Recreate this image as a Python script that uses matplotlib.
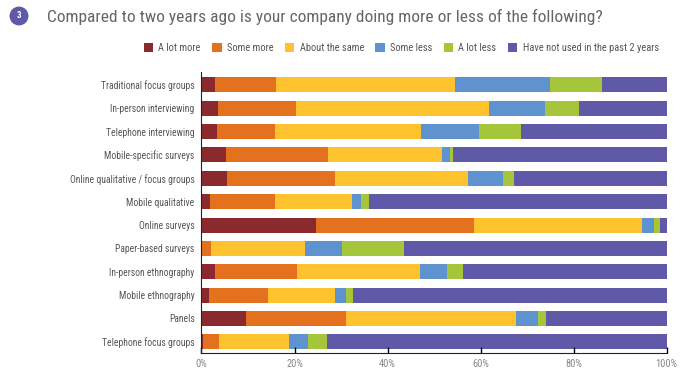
import matplotlib.pyplot as plt
import numpy as np
from matplotlib import font_manager

# pick a narrow font if one is there
names = {f.name for f in font_manager.fontManager.ttflist}
narrow = [n for n in ['Liberation Sans Narrow', 'Roboto Condensed', 'Open Sans Condensed']
          if n in names]
font = narrow[0] if narrow else 'DejaVu Sans'
plt.rcParams['font.family'] = [font, 'DejaVu Sans']

# data (percent of respondents)
methods = ['Traditional focus groups', 'In-person interviewing', 'Telephone interviewing',
           'Mobile-specific surveys', 'Online qualitative / focus groups', 'Mobile qualitative',
           'Online surveys', 'Paper-based surveys', 'In-person ethnography',
           'Mobile ethnography', 'Panels', 'Telephone focus groups']
answers = ['A lot more', 'Some more', 'About the same', 'Some less', 'A lot less',
           'Have not used in the past 2 years']
a_lot_more = [3.0, 3.6, 3.3, 5.2, 5.4, 1.8, 24.6, 0.0, 3.0, 1.6, 9.6, 0.3]
some_more = [13.0, 16.8, 12.4, 22.0, 23.2, 14.0, 33.9, 2.0, 17.6, 12.6, 21.4, 3.5]
about_same = [38.4, 41.3, 31.4, 24.6, 28.7, 16.6, 36.2, 20.3, 26.4, 14.4, 36.6, 15.0]
some_less = [20.6, 12.1, 12.6, 1.6, 7.5, 1.9, 2.6, 7.8, 5.8, 2.4, 4.7, 4.2]
a_lot_less = [11.0, 7.3, 8.9, 0.7, 2.4, 1.7, 1.2, 13.4, 3.4, 1.5, 1.7, 4.0]
not_used = [14.0, 18.9, 31.4, 45.9, 32.8, 64.0, 1.5, 56.5, 43.8, 67.5, 26.0, 73.0]

colors = ['#8b2a2e', '#e3711e', '#fec22e', '#5e93cf', '#a5c63b', '#5f59a8']
series = [a_lot_more, some_more, about_same, some_less, a_lot_less, not_used]

fig = plt.figure(figsize=(6.9, 3.82), dpi=100)
ax = fig.add_axes([0.292, 0.0751, 0.6742, 0.7365])

y = np.arange(len(methods))
left = np.zeros(len(methods))
for vals, lab, col in zip(series, answers, colors):
    ax.barh(y, vals, left=left, height=0.64, color=col, label=lab)
    left += np.array(vals)

ax.set_xlim(0, 100)
ax.set_ylim(11.49, -0.55)
ax.set_yticks(y)
ax.set_yticklabels(methods, fontsize=6.9, color='#555555')
ax.tick_params(axis='y', length=0, pad=5)
ax.set_xticks([0, 20, 40, 60, 80, 100])
ax.set_xticklabels(['0%', '20%', '40%', '60%', '80%', '100%'], fontsize=7.5, color='#888888')
ax.tick_params(axis='x', direction='in', length=4, width=1, pad=4)
for s in ['top', 'right']:
    ax.spines[s].set_visible(False)
ax.spines['left'].set_color('#222222')
ax.spines['bottom'].set_color('#222222')

# title with numbered badge
fig.text(19 / 690, 1 - 16 / 382, '3', color='white', fontsize=6.5, ha='center', va='center',
         fontweight='bold',
         bbox=dict(boxstyle='circle,pad=0.55', fc='#5f59a8', ec='none'))
title = fig.text(47 / 690, 1 - 17 / 382,
                 'Compared to two years ago is your company doing more or less of the following?',
                 fontsize=12.5, color='#666666', va='center', ha='left')

leg = fig.legend(loc='center right', bbox_to_anchor=(668 / 690, 1 - 48 / 382), ncol=6,
                 frameon=False, fontsize=7.5, handlelength=0.9, handleheight=0.9,
                 handletextpad=0.5, columnspacing=1.1, labelcolor='#555555')

# shrink title / legend to the reference widths when the font is wide
r = fig.canvas.get_renderer()
w = title.get_window_extent(r).width
if w > 566:
    title.set_fontsize(12.5 * 566 / w)
w = leg.get_window_extent(r).width
if w > 522:
    for t in leg.get_texts():
        t.set_fontsize(7.5 * 522 / w)

plt.savefig('out.png', dpi=100)
